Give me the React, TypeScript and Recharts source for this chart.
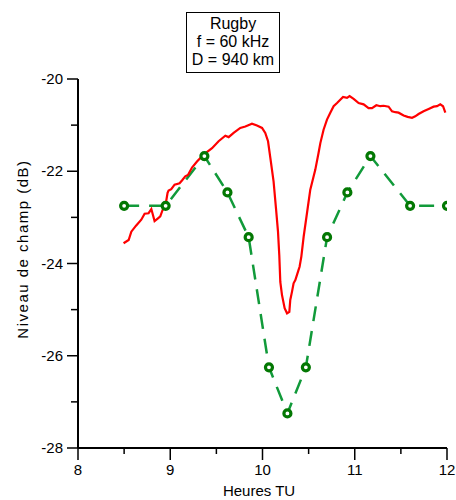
import React from "react";
import { ComposedChart, Line, XAxis, YAxis } from "recharts";

// mesure (rouge)
const measX = [
  8.494, 8.549, 8.578, 8.629, 8.686, 8.722, 8.765, 8.795, 8.83, 8.867, 8.892, 8.917, 8.946, 8.971,
  8.982, 9.011, 9.047, 9.101, 9.127, 9.163, 9.192, 9.236, 9.29, 9.362, 9.453, 9.524, 9.597, 9.633,
  9.687, 9.759, 9.814, 9.886, 9.94, 9.995, 10.03, 10.06, 10.085, 10.12, 10.146, 10.168, 10.182,
  10.193, 10.211, 10.24, 10.266, 10.291, 10.301, 10.32, 10.337, 10.356, 10.391, 10.402, 10.421,
  10.446, 10.482, 10.518, 10.572, 10.608, 10.627, 10.662, 10.699, 10.735, 10.771, 10.808, 10.873,
  10.916, 10.944, 10.988, 11.042, 11.096, 11.15, 11.187, 11.234, 11.277, 11.313, 11.367, 11.404,
  11.44, 11.475, 11.53, 11.573, 11.621, 11.656, 11.692, 11.746, 11.801, 11.855, 11.892, 11.927,
  11.957, 11.982,
];
const measY = [
  -23.56, -23.49, -23.31, -23.18, -23.05, -22.92, -22.91, -22.82, -23.08, -23.02, -22.98, -22.84,
  -22.77, -22.47, -22.42, -22.39, -22.29, -22.26, -22.2, -22.11, -22.08, -21.92, -21.79, -21.64,
  -21.5, -21.35, -21.23, -21.26, -21.17, -21.06, -21.03, -20.97, -21.01, -21.06, -21.17, -21.35,
  -21.71, -22.22, -22.8, -23.31, -23.82, -24.4, -24.68, -24.97, -25.08, -25.05, -24.79, -24.61,
  -24.43, -24.36, -24.14, -24.07, -23.85, -23.42, -22.91, -22.4, -21.97, -21.6, -21.39, -21.1,
  -20.88, -20.73, -20.59, -20.52, -20.39, -20.41, -20.37, -20.43, -20.52, -20.55, -20.63, -20.63,
  -20.57, -20.59, -20.58, -20.6, -20.7, -20.72, -20.73, -20.79, -20.82, -20.84, -20.81, -20.76,
  -20.7, -20.65, -20.6, -20.59, -20.55, -20.59, -20.73,
];

// calcul (vert)
const calcX = [8.5, 8.95, 9.37, 9.62, 9.85, 10.07, 10.27, 10.47, 10.7, 10.92, 11.17, 11.6, 12.0];
const calcY = [
  -22.75, -22.75, -21.67, -22.46, -23.43, -26.25, -27.25, -26.25, -23.43, -22.46, -21.67, -22.75,
  -22.75,
];

const xTicks = [8, 8.5, 9, 9.5, 10, 10.5, 11, 11.5, 12];
const yTicks = [-28, -27, -26, -25, -24, -23, -22, -21, -20];

const measData = measX.map((x, i) => ({ x, y: measY[i] }));
const calcData = calcX.map((x, i) => ({ x, y: calcY[i] }));

const FONT = '"Liberation Sans", Arial, sans-serif';

const XTick = (props: any) => {
  const { x, y, payload } = props;
  const major = Number.isInteger(payload.value);
  return (
    <g>
      <line x1={x} x2={x} y1={y} y2={y + (major ? 12 : 6)} stroke="#000" strokeWidth={1.5} />
      {major && (
        <text x={x} y={y + 27} textAnchor="middle" fontSize={15} fontFamily={FONT} fill="#000">
          {payload.value}
        </text>
      )}
    </g>
  );
};

const YTick = (props: any) => {
  const { x, y, payload } = props;
  const major = payload.value % 2 === 0;
  return (
    <g>
      <line x1={x - (major ? 11 : 7)} x2={x} y1={y} y2={y} stroke="#000" strokeWidth={1.5} />
      {major && (
        <text x={x - 15} y={y + 5} textAnchor="end" fontSize={15} fontFamily={FONT} fill="#000">
          {payload.value}
        </text>
      )}
    </g>
  );
};

const CalcDot = (props: any) => {
  const { cx, cy, index } = props;
  return (
    <circle key={`d-${index}`} cx={cx} cy={cy} r={3.5} fill="#fff" stroke="#037803" strokeWidth={3.2} />
  );
};

export default function App() {
  return (
    <div style={{ position: "absolute", left: 0, top: 0, width: 456, height: 500, background: "#fff" }}>
      <ComposedChart width={456} height={500} margin={{ top: 79, right: 9, bottom: 0, left: 0 }}>
        <XAxis
          type="number"
          dataKey="x"
          domain={[8, 12]}
          ticks={xTicks}
          interval={0}
          tick={<XTick />}
          tickLine={false}
          tickSize={0}
          tickMargin={0}
          height={52}
          axisLine={{ stroke: "#000", strokeWidth: 2 }}
          allowDataOverflow
        />
        <YAxis
          type="number"
          dataKey="y"
          domain={[-28, -20]}
          ticks={yTicks}
          interval={0}
          tick={<YTick />}
          tickLine={false}
          tickSize={0}
          tickMargin={0}
          width={78}
          axisLine={{ stroke: "#000", strokeWidth: 2 }}
          allowDataOverflow
        />
        <Line
          data={calcData}
          dataKey="y"
          type="linear"
          stroke="#119a3a"
          strokeWidth={2.5}
          strokeDasharray="15 10"
          dot={<CalcDot />}
          isAnimationActive={false}
        />
        <Line
          data={measData}
          dataKey="y"
          type="linear"
          stroke="#ff0000"
          strokeWidth={2.2}
          dot={false}
          isAnimationActive={false}
        />
      </ComposedChart>
      <div
        style={{
          position: "absolute",
          left: 22,
          top: 249,
          transform: "translate(-50%, -50%) rotate(-90deg)",
          whiteSpace: "nowrap",
          fontFamily: FONT,
          fontSize: 15,
          letterSpacing: 1.5,
        }}
      >
        Niveau de champ (dB)
      </div>
      <div
        style={{
          position: "absolute",
          left: 259,
          top: 490,
          transform: "translate(-50%, -50%)",
          whiteSpace: "nowrap",
          fontFamily: FONT,
          fontSize: 15,
        }}
      >
        Heures TU
      </div>
      <div
        style={{
          position: "absolute",
          left: 186,
          top: 12,
          width: 92,
          height: 57,
          border: "1.5px solid #000",
          fontFamily: FONT,
          fontSize: 16,
          lineHeight: "18px",
          textAlign: "center",
          paddingTop: 2,
          boxSizing: "content-box",
        }}
      >
        Rugby
        <br />f = 60 kHz
        <br />D = 940 km
      </div>
    </div>
  );
}
